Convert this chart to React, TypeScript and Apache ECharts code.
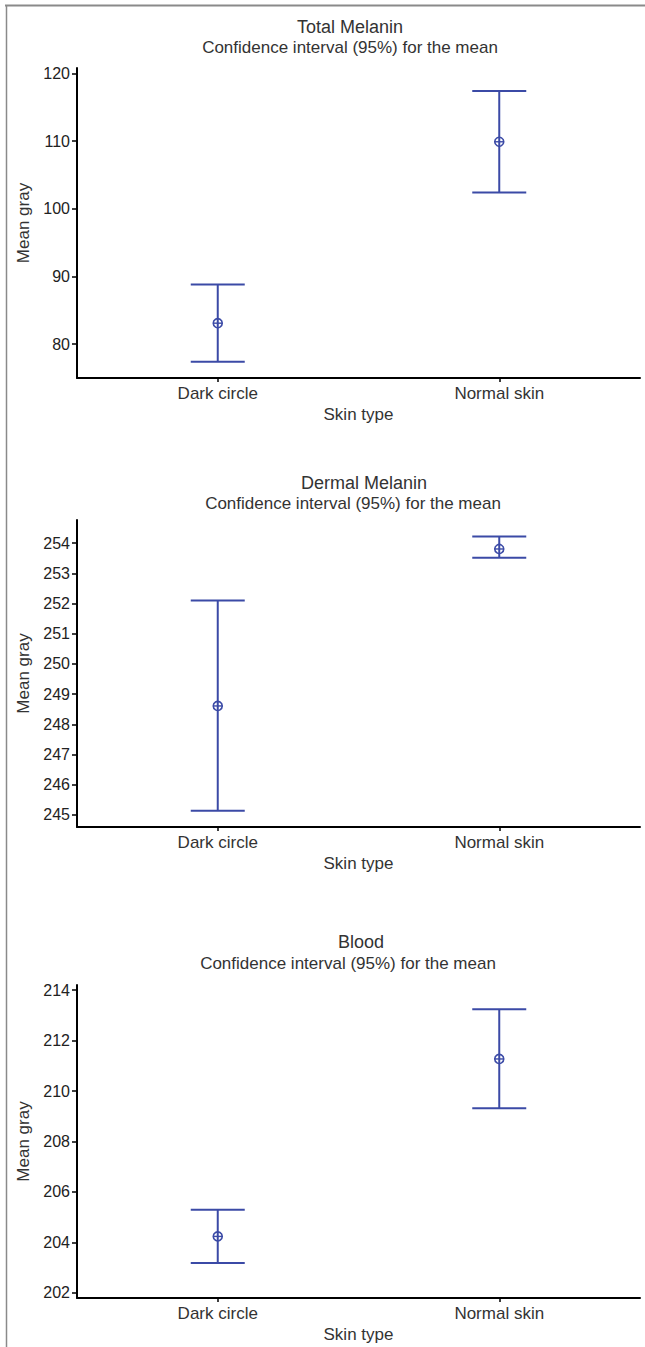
import React, { useEffect, useRef } from "react";
import * as echarts from "echarts";

const categories = ["Dark circle", "Normal skin"];
const panelTitles = ["Total Melanin", "Dermal Melanin", "Blood"];
const subtitleText = "Confidence interval (95%) for the mean";
const xAxisName = "Skin type";
const yAxisName = "Mean gray";

// [lower, mean, upper] per category
const totalMelaninLower = [77.4, 102.4];
const totalMelaninMean = [83.1, 109.9];
const totalMelaninUpper = [88.8, 117.4];

const dermalMelaninLower = [245.14, 253.52];
const dermalMelaninMean = [248.61, 253.81];
const dermalMelaninUpper = [252.1, 254.22];

const bloodLower = [203.19, 209.32];
const bloodMean = [204.24, 211.27];
const bloodUpper = [205.3, 213.24];

const totalMelaninTicks = [80, 90, 100, 110, 120];
const dermalMelaninTicks = [245, 246, 247, 248, 249, 250, 251, 252, 253, 254];
const bloodTicks = [202, 204, 206, 208, 210, 212, 214];

const yMins = [75, 244.6, 201.8];
const yMaxs = [120.8, 254.77, 214.2];

const FONT = "'Liberation Sans', Arial, sans-serif";
const BAR_COLOR = "#3b4aa6";

const panels = [
  { lower: totalMelaninLower, mean: totalMelaninMean, upper: totalMelaninUpper, ticks: totalMelaninTicks },
  { lower: dermalMelaninLower, mean: dermalMelaninMean, upper: dermalMelaninUpper, ticks: dermalMelaninTicks },
  { lower: bloodLower, mean: bloodMean, upper: bloodUpper, ticks: bloodTicks },
];

const gridTops = [68, 520, 985];
const gridHeights = [310, 307, 313];
const titleYs = [27, 483, 942];
const titleXs = [350, 364, 361];
const subYs = [47, 503, 963];
const subXs = [350, 353, 348];

export default function App() {
  const ref = useRef<HTMLDivElement>(null);
  useEffect(() => {
    if (!ref.current) return;
    const chart = echarts.init(ref.current, null, { renderer: "svg" });

    const renderItem = (params: any, api: any) => {
      const x = api.value(0);
      const lo = api.coord([x, api.value(1)]);
      const m = api.coord([x, api.value(2)]);
      const hi = api.coord([x, api.value(3)]);
      const w = 27;
      const r = 4.5;
      const st = { stroke: BAR_COLOR, lineWidth: 2, fill: "none" };
      return {
        type: "group",
        children: [
          { type: "line", shape: { x1: hi[0], y1: hi[1], x2: lo[0], y2: lo[1] }, style: st },
          { type: "line", shape: { x1: hi[0] - w, y1: hi[1], x2: hi[0] + w, y2: hi[1] }, style: st },
          { type: "line", shape: { x1: lo[0] - w, y1: lo[1], x2: lo[0] + w, y2: lo[1] }, style: st },
          { type: "circle", shape: { cx: m[0], cy: m[1], r }, style: { stroke: BAR_COLOR, lineWidth: 1.6, fill: "none" } },
          { type: "line", shape: { x1: m[0] - r, y1: m[1], x2: m[0] + r, y2: m[1] }, style: { stroke: BAR_COLOR, lineWidth: 1.4 } },
        ],
      };
    };

    const grids = panels.map((_, i) => ({
      left: 77,
      right: 5,
      top: gridTops[i],
      height: gridHeights[i],
    }));

    const xAxes = panels.map((_, i) => ({
      type: "category",
      gridIndex: i,
      data: categories,
      boundaryGap: true,
      name: xAxisName,
      nameLocation: "middle",
      nameGap: 28,
      nameTextStyle: { fontFamily: FONT, fontSize: 17, color: "#333" },
      axisLine: { show: true, lineStyle: { color: "#000", width: 2 } },
      axisTick: { show: true, alignWithLabel: true, length: 4, lineStyle: { color: "#000", width: 1.5 } },
      axisLabel: { margin: 7, fontFamily: FONT, fontSize: 17, color: "#333" },
      splitLine: { show: false },
    }));

    const yAxes = panels.map((p, i) => ({
      type: "value",
      gridIndex: i,
      min: yMins[i],
      max: yMaxs[i],
      name: yAxisName,
      nameLocation: "middle",
      nameGap: 44,
      nameTextStyle: { fontFamily: FONT, fontSize: 17, color: "#333" },
      axisLine: { show: true, lineStyle: { color: "#000", width: 2 } },
      axisTick: { show: true, length: 5, lineStyle: { color: "#000", width: 1.5 }, customValues: p.ticks },
      axisLabel: { margin: 7, fontFamily: FONT, fontSize: 16, color: "#222", customValues: p.ticks, showMinLabel: true, showMaxLabel: true },
      splitLine: { show: false },
    }));

    const series = panels.map((p, i) => ({
      type: "custom",
      xAxisIndex: i,
      yAxisIndex: i,
      renderItem,
      encode: { x: 0, y: [1, 2, 3] },
      data: categories.map((_, k) => [k, p.lower[k], p.mean[k], p.upper[k]]),
      clip: false,
    }));

    const graphics: any[] = [
      { type: "line", shape: { x1: 5, y1: 5.5, x2: 645, y2: 5.5 }, style: { stroke: "#8a8a8a", lineWidth: 2 } },
      { type: "line", shape: { x1: 6.5, y1: 5, x2: 6.5, y2: 1347 }, style: { stroke: "#8a8a8a", lineWidth: 1.5 } },
    ];
    panelTitles.forEach((t, i) => {
      graphics.push({
        type: "text",
        x: titleXs[i],
        y: titleYs[i],
        style: { text: t, fontFamily: FONT, fontSize: 18, fill: "#333", textAlign: "center", textVerticalAlign: "middle" },
      });
      graphics.push({
        type: "text",
        x: subXs[i],
        y: subYs[i],
        style: { text: subtitleText, fontFamily: FONT, fontSize: 17, fill: "#333", textAlign: "center", textVerticalAlign: "middle" },
      });
    });

    chart.setOption({
      animation: false,
      backgroundColor: "#fff",
      grid: grids,
      xAxis: xAxes,
      yAxis: yAxes,
      series,
      graphic: graphics,
    } as any);

    return () => chart.dispose();
  }, []);

  return (
    <div
      ref={ref}
      style={{ position: "absolute", left: 0, top: 0, width: 645, height: 1347, background: "#fff" }}
    />
  );
}
